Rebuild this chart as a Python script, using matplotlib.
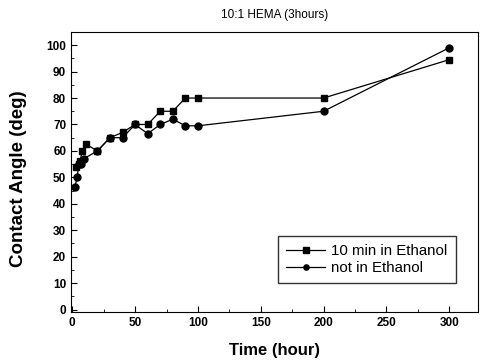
import matplotlib
matplotlib.use("Agg")
from matplotlib import pyplot as plt
from matplotlib.ticker import MultipleLocator

plt.rcParams["font.family"] = ["Liberation Sans", "DejaVu Sans"]

# 10 min in Ethanol (squares)
t_eth = [3, 5, 6, 8, 11, 20, 30, 40, 50, 60, 70, 80, 90, 100, 200, 300]
angle_eth = [54, 55, 56, 60, 62.5, 60, 65, 67, 70, 70, 75, 75, 80, 80, 80, 94.5]

# not in Ethanol (circles)
t_no = [2, 4, 5, 7, 9, 20, 30, 40, 50, 60, 70, 80, 90, 100, 200, 300]
angle_no = [46.5, 50, 55, 55, 57, 60, 65, 65, 70, 66.5, 70, 72, 69.5, 69.5, 75, 99]

title = "10:1 HEMA (3hours)"

fig = plt.figure(figsize=(4.8, 3.63), dpi=100)
ax = fig.add_axes([0.148, 0.14, 0.848, 0.772])

ax.plot(t_eth, angle_eth, "k-", marker="s", markersize=5, linewidth=0.9,
        label="10 min in Ethanol")
ax.plot(t_no, angle_no, "k-", marker="o", markersize=5, linewidth=0.9,
        label="not in Ethanol")

ax.set_xlim(-1, 323)
ax.set_ylim(-1, 105)
ax.xaxis.set_major_locator(MultipleLocator(50))
ax.xaxis.set_minor_locator(MultipleLocator(25))
ax.yaxis.set_major_locator(MultipleLocator(10))
ax.yaxis.set_minor_locator(MultipleLocator(5))
ax.tick_params(which="both", direction="in", labelsize=8.5)
ax.tick_params(which="major", length=4)
ax.tick_params(which="minor", length=2)
for lab in ax.get_xticklabels() + ax.get_yticklabels():
    lab.set_fontweight("bold")

ax.set_xlabel("Time (hour)", fontsize=12, fontweight="bold")
ax.set_ylabel("Contact Angle (deg)", fontsize=13.5, fontweight="bold")
ax.xaxis.set_label_coords(0.5, -0.11)
ax.yaxis.set_label_coords(-0.108, 0.475)
ax.set_title(title, fontsize=8.5, pad=10)

ax.legend(loc="lower right", bbox_to_anchor=(0.945, 0.103), fontsize=10.8,
          frameon=True, fancybox=False, edgecolor="black", handlelength=2.6,
          handletextpad=0.4, borderpad=0.55, labelspacing=0.2,
          markerscale=0.75, borderaxespad=0)

fig.savefig("out.png", dpi=100)
